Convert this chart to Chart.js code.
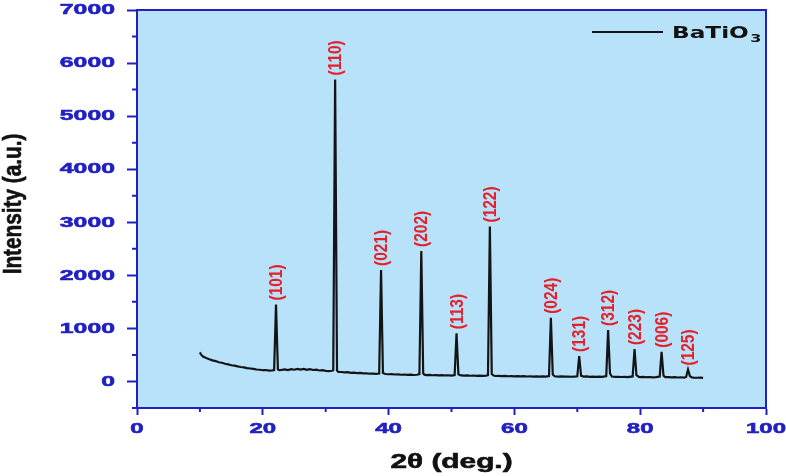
<!DOCTYPE html>
<html>
<head>
<meta charset="utf-8">
<script src="https://cdn.jsdelivr.net/npm/chart.js@4.4.1/dist/chart.umd.min.js"></script>
<style>
  html, body { margin: 0; padding: 0; background: #ffffff; }
  #wrap { width: 786px; height: 476px; }
</style>
</head>
<body>
<div id="wrap"><canvas id="xrd" width="786" height="476"></canvas></div>
<script>
// reflections of the BaTiO3 pattern: hkl, 2theta position, peak intensity
const peakLabels = ['(101)', '(110)', '(021)', '(202)', '(113)', '(122)', '(024)', '(131)', '(312)', '(223)', '(006)', '(125)']
const peakTheta = [22.1, 31.5, 38.8, 45.2, 50.8, 56.1, 65.8, 70.3, 74.9, 79.1, 83.4, 87.6]
const peakCounts = [1450, 5690, 2100, 2460, 910, 2920, 1200, 480, 970, 610, 560, 225]

// axis tick values
const xTicks = [0, 20, 40, 60, 80, 100]
const yTicks = [0, 1000, 2000, 3000, 4000, 5000, 6000, 7000]

// background trace between the reflections [2theta, counts]
const background = [
    [10.0, 548], [10.2, 505], [10.5, 470], [11.0, 442], [11.5, 418], [12.0, 398], [12.5, 384],
    [13.0, 362], [13.5, 352], [14.0, 334], [14.5, 322], [15.0, 306], [15.5, 298], [16.0, 284],
    [16.5, 273], [17.0, 266], [17.5, 252], [18.0, 244], [18.5, 236], [19.0, 226], [19.5, 221],
    [20.0, 212], [20.5, 216], [21.0, 204], [21.5, 209], [21.8, 214],
    [22.4, 226], [22.6, 212], [23.0, 218], [23.5, 228], [24.0, 214], [24.5, 232], [25.0, 221],
    [25.5, 236], [26.0, 224], [26.5, 238], [27.0, 219], [27.5, 231], [28.0, 216], [28.5, 222],
    [29.0, 207], [29.5, 212], [30.0, 199], [30.5, 196], [31.0, 202], [31.2, 210],
    [31.8, 205], [32.0, 182], [32.5, 178], [33.0, 171], [33.5, 175], [34.0, 163], [34.5, 166],
    [35.0, 157], [35.5, 160], [36.0, 151], [36.5, 154], [37.0, 146], [37.5, 149], [38.0, 142],
    [38.5, 150],
    [39.1, 160], [39.5, 140], [40.0, 136], [40.5, 139], [41.0, 131], [41.5, 134], [42.0, 127],
    [42.5, 131], [43.0, 124], [43.5, 128], [44.0, 122], [44.5, 126], [44.9, 138],
    [45.5, 150], [45.7, 128], [46.0, 121], [46.5, 124], [47.0, 117], [47.5, 121], [48.0, 115],
    [48.5, 119], [49.0, 113], [49.5, 117], [50.0, 111], [50.5, 122],
    [51.1, 135], [51.5, 114], [52.0, 110], [52.5, 114], [53.0, 108], [53.5, 112], [54.0, 106],
    [54.5, 110], [55.0, 104], [55.5, 109], [55.8, 118],
    [56.4, 140], [56.7, 112], [57.0, 103], [57.5, 106], [58.0, 100], [58.5, 104], [59.0, 98],
    [59.5, 102], [60.0, 97], [60.5, 101], [61.0, 95], [61.5, 99], [62.0, 94], [62.5, 98],
    [63.0, 93], [63.5, 97], [64.0, 92], [64.5, 96], [65.0, 91], [65.5, 100],
    [66.1, 130], [66.4, 98], [67.0, 92], [67.5, 96], [68.0, 90], [68.5, 94], [69.0, 89],
    [69.5, 93], [70.0, 98],
    [70.6, 110], [71.0, 90], [71.5, 94], [72.0, 88], [72.5, 92], [73.0, 87], [73.5, 91],
    [74.0, 86], [74.6, 100],
    [75.2, 150], [75.5, 92], [76.0, 85], [76.5, 89], [77.0, 84], [77.5, 88], [78.0, 83],
    [78.8, 95],
    [79.4, 120], [79.8, 86], [80.0, 82], [80.5, 86], [81.0, 80], [81.5, 84], [82.0, 79],
    [82.5, 83], [83.1, 92],
    [83.7, 110], [84.0, 80], [84.5, 82], [85.0, 76], [85.5, 80], [86.0, 75], [86.5, 79],
    [87.0, 74], [87.3, 85],
    [87.9, 100], [88.2, 76], [88.5, 72], [89.0, 70], [89.5, 73], [90.0, 68]
]

const blue = '#2121c2'
const plotBg = '#b7e2fa'
const wideFont = "'Liberation Sans', Arial, sans-serif"

// full trace = background points plus the peak maxima, ordered by angle
const trace = background.map(p => ({ x: p[0], y: p[1] }))
    .concat(peakTheta.map((t, i) => ({ x: t, y: peakCounts[i] })))
    .sort((a, b) => a.x - b.x)

// text drawn with a horizontal stretch and a thin outline for heavier strokes
function wideText(ctx, txt, x, y, sx, align, rot) {
    ctx.save()
    ctx.translate(x, y)
    if (rot) ctx.rotate(rot)
    ctx.scale(sx, 1)
    ctx.textAlign = align
    ctx.fillText(txt, 0, 0)
    ctx.lineWidth = 0.6
    ctx.strokeStyle = ctx.fillStyle
    ctx.strokeText(txt, 0, 0)
    ctx.restore()
}

// light blue plot area, blue frame, minor ticks, tick labels, titles and legend
const frame = {
    id: 'frame',
    beforeDraw(chart) {
        const { ctx, chartArea: a } = chart
        ctx.save()
        ctx.fillStyle = plotBg
        ctx.fillRect(a.left, a.top, a.right - a.left, a.bottom - a.top)
        ctx.restore()
    },
    afterDraw(chart) {
        const { ctx, chartArea: a, scales } = chart
        ctx.save()
        ctx.strokeStyle = blue
        ctx.lineWidth = 2
        ctx.strokeRect(a.left, a.top, a.right - a.left, a.bottom - a.top)
        ctx.beginPath()
        const xt = scales.x.ticks
        for (let i = 0; i < xt.length - 1; i++) {
            const px = scales.x.getPixelForValue((xt[i].value + xt[i + 1].value) / 2)
            ctx.moveTo(px, a.bottom)
            ctx.lineTo(px, a.bottom + 4)
        }
        const yt = scales.y.ticks
        const ys = yt[1].value - yt[0].value
        for (let i = 0; i < yt.length; i++) {
            const py = scales.y.getPixelForValue(yt[i].value - ys / 2)
            ctx.moveTo(a.left - 5, py)
            ctx.lineTo(a.left, py)
        }
        ctx.stroke()

        // tick labels
        ctx.fillStyle = blue
        ctx.font = 'bold 15.5px ' + wideFont
        ctx.textBaseline = 'middle'
        xt.forEach(t => wideText(ctx, String(t.value), scales.x.getPixelForValue(t.value), a.bottom + 21, 1.55, 'center'))
        yt.forEach(t => wideText(ctx, String(t.value), a.left - 22, scales.y.getPixelForValue(t.value), 1.6, 'right'))

        // axis titles
        ctx.fillStyle = '#111'
        ctx.font = 'bold 21px ' + wideFont
        wideText(ctx, '2\u03b8 (deg.)', (a.left + a.right) / 2, 462, 1.42, 'center')
        ctx.font = 'bold 25px ' + wideFont
        ctx.textBaseline = 'alphabetic'
        wideText(ctx, 'Intensity (a.u.)', 21, 204, 0.83, 'center', -Math.PI / 2)

        // legend: sample line + BaTiO3 with subscript
        const ds = chart.data.datasets[0]
        const ly = a.top + 22
        ctx.strokeStyle = ds.borderColor
        ctx.lineWidth = 2
        ctx.beginPath()
        ctx.moveTo(a.right - 174, ly)
        ctx.lineTo(a.right - 103, ly)
        ctx.stroke()
        ctx.textBaseline = 'alphabetic'
        ctx.textAlign = 'left'
        ctx.translate(a.right - 94, ly + 6)
        ctx.scale(1.45, 1)
        ctx.font = "bold 16px 'DejaVu Sans', sans-serif"
        const main = ds.label.slice(0, -1)
        ctx.fillText(main, 0, 0)
        const w = ctx.measureText(main).width
        ctx.font = "bold 11px 'DejaVu Sans', sans-serif"
        ctx.fillText(ds.label.slice(-1), w + 1, 4)
        ctx.restore()
    }
}

// hkl labels standing vertically above each reflection
const hklLabels = {
    id: 'hklLabels',
    afterDatasetsDraw(chart) {
        const { ctx, scales } = chart
        ctx.save()
        ctx.fillStyle = '#e6202a'
        ctx.font = 'bold 18px ' + wideFont
        ctx.textAlign = 'left'
        ctx.textBaseline = 'middle'
        peakLabels.forEach((txt, i) => {
            const px = scales.x.getPixelForValue(peakTheta[i])
            const py = scales.y.getPixelForValue(peakCounts[i])
            ctx.save()
            ctx.translate(px + 1, py - 4)
            ctx.rotate(-Math.PI / 2)
            ctx.scale(0.86, 1)
            ctx.fillText(txt, 0, 0)
            ctx.restore()
        })
        ctx.restore()
    }
}

const config = {
    type: 'line',
    data: {
        datasets: [
            {
                label: 'BaTiO3',
                data: trace,
                borderColor: '#141414',
                backgroundColor: '#141414',
                borderWidth: 2.2,
                pointRadius: 0,
                tension: 0
            }
        ]
    },
    options: {
        responsive: false,
        animation: false,
        layout: { padding: { top: 10, right: 20, left: 0, bottom: 0 } },
        plugins: {
            tooltip: { enabled: false },
            legend: { display: false }
        },
        scales: {
            x: {
                type: 'linear',
                min: 0,
                max: 100,
                afterFit(scale) {
                    scale.height = 68
                    scale.paddingLeft = 0
                    scale.paddingRight = 0
                },
                afterBuildTicks(scale) { scale.ticks = xTicks.map(v => ({ value: v })) },
                ticks: { display: false, autoSkip: false },
                grid: { drawOnChartArea: false, drawTicks: true, tickLength: 7, tickWidth: 2, color: blue },
                border: { color: blue, width: 2 }
            },
            y: {
                type: 'linear',
                min: -500,
                max: 7000,
                afterFit(scale) {
                    scale.width = 137
                    scale.paddingTop = 0
                    scale.paddingBottom = 0
                },
                afterBuildTicks(scale) { scale.ticks = yTicks.map(v => ({ value: v })) },
                ticks: { display: false, autoSkip: false },
                grid: { drawOnChartArea: false, drawTicks: true, tickLength: 10, tickWidth: 2, color: blue },
                border: { color: blue, width: 2 }
            }
        }
    },
    plugins: [frame, hklLabels]
}

const xrdChart = new Chart(document.querySelector('#xrd'), config)
</script>
</body>
</html>
